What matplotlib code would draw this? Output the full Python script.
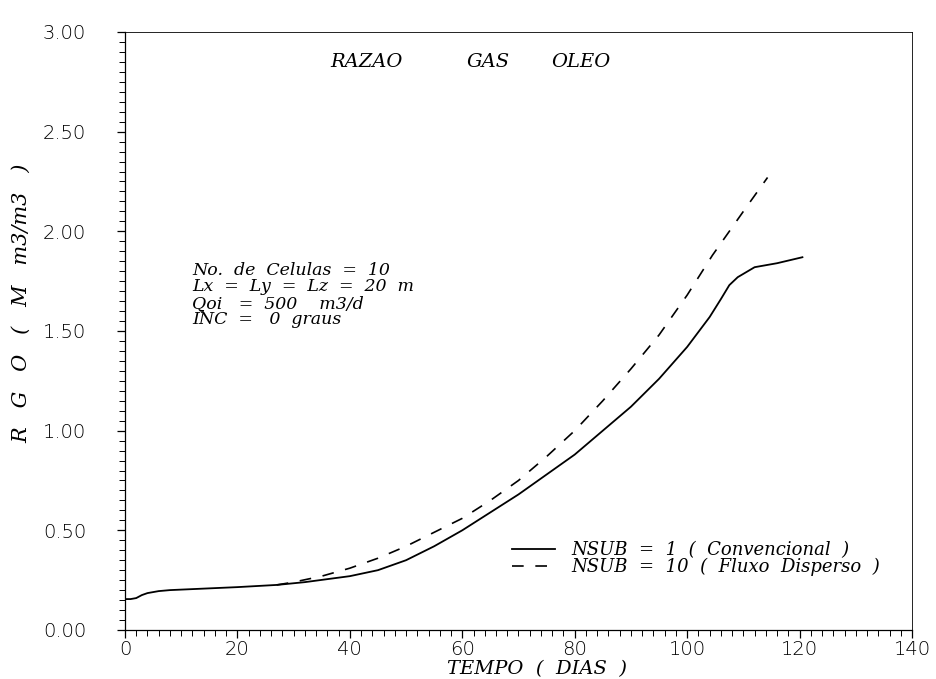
import matplotlib
matplotlib.use("Agg")
import matplotlib.pyplot as plt
from matplotlib.ticker import MultipleLocator, FormatStrFormatter

# solid line: NSUB = 1 (Convencional)
tempo_conv = [0, 1, 2, 3, 4, 6, 8, 12, 16, 20, 27, 32, 36, 40, 45, 50, 55, 60, 65,
              70, 75, 80, 85, 90, 95, 100, 104, 106, 107.5, 109, 112, 116, 120.5]
rgo_conv = [0.155, 0.155, 0.16, 0.175, 0.185, 0.195, 0.20, 0.205, 0.21, 0.215, 0.226,
            0.24, 0.255, 0.27, 0.30, 0.35, 0.42, 0.50, 0.59, 0.68, 0.78, 0.88, 1.00,
            1.12, 1.26, 1.42, 1.57, 1.66, 1.73, 1.77, 1.82, 1.84, 1.87]

# dashed line: NSUB = 10 (Fluxo Disperso)
tempo_disp = [27, 30, 35, 40, 45, 50, 55, 60, 65, 70, 75, 80, 85, 90, 95, 100,
              104.5, 107.5, 110.5, 114.3]
rgo_disp = [0.226, 0.24, 0.27, 0.31, 0.36, 0.42, 0.49, 0.56, 0.65, 0.75, 0.87,
            1.00, 1.15, 1.31, 1.48, 1.68, 1.88, 2.00, 2.12, 2.27]

legend_labels = ["NSUB  =  1  (  Convencional  )", "NSUB  =  10  (  Fluxo  Disperso  )"]
title_words = ["RAZAO", "GAS", "OLEO"]
info_lines = ["No.  de  Celulas  =  10",
              "Lx  =  Ly  =  Lz  =  20  m",
              "Qoi   =  500    m3/d",
              "INC  =   0  graus"]

serif_it = dict(family="DejaVu Serif", style="italic")

fig = plt.figure(figsize=(9.36, 6.79), dpi=100)
ax = fig.add_axes([0.1335, 0.0722, 0.8409, 0.8807])

ax.plot(tempo_conv, rgo_conv, color="black", linewidth=1.3,
        label=legend_labels[0])
ax.plot(tempo_disp, rgo_disp, color="black", linewidth=1.2,
        linestyle=(0, (7, 7)), label=legend_labels[1])

ax.set_xlim(0, 140)
ax.set_ylim(0, 3.0)
ax.xaxis.set_major_locator(MultipleLocator(20))
ax.xaxis.set_minor_locator(MultipleLocator(2))
ax.yaxis.set_major_locator(MultipleLocator(0.5))
ax.yaxis.set_minor_locator(MultipleLocator(0.05))
ax.yaxis.set_major_formatter(FormatStrFormatter("%.2f"))
ax.tick_params(which="major", direction="out", length=6, width=0.9, labelsize=14,
               colors="black")
ax.tick_params(axis="x", which="major", pad=1)
ax.tick_params(axis="y", which="major", pad=22)
ax.tick_params(which="minor", direction="out", length=4, width=0.7)
for lbl in ax.get_xticklabels() + ax.get_yticklabels():
    lbl.set_fontweight("light")
for sp in ax.spines.values():
    sp.set_linewidth(0.9)
ax.spines["top"].set_linewidth(0.6)
ax.spines["right"].set_linewidth(0.6)

fig.text(537 / 936, 1 - 669 / 679, "TEMPO  (  DIAS  )", fontsize=14,
         ha="center", va="center", **serif_it)
fig.text(22 / 936, 1 - 303 / 679, "R   G   O   (   M   m3/m3   )", fontsize=15,
         rotation=90, ha="center", va="center", **serif_it)

for word, xc in zip(title_words, [366, 488, 581]):
    fig.text(xc / 936, 1 - 62 / 679, word, fontsize=14, ha="center",
             va="center", **serif_it)

fig.text(192 / 936, 1 - 262 / 679, "\n".join(info_lines), ha="left", va="top",
         fontsize=12.5, linespacing=0.95, **serif_it)

fig.legend(loc="upper left", bbox_to_anchor=(512 / 936, 1 - 541 / 679),
           bbox_transform=fig.transFigure, frameon=False, borderpad=0,
           borderaxespad=0, handlelength=2.4, handletextpad=0.9, labelspacing=-0.05,
           prop=dict(family="DejaVu Serif", style="italic", size=13))

fig.savefig("out.png", dpi=100)
